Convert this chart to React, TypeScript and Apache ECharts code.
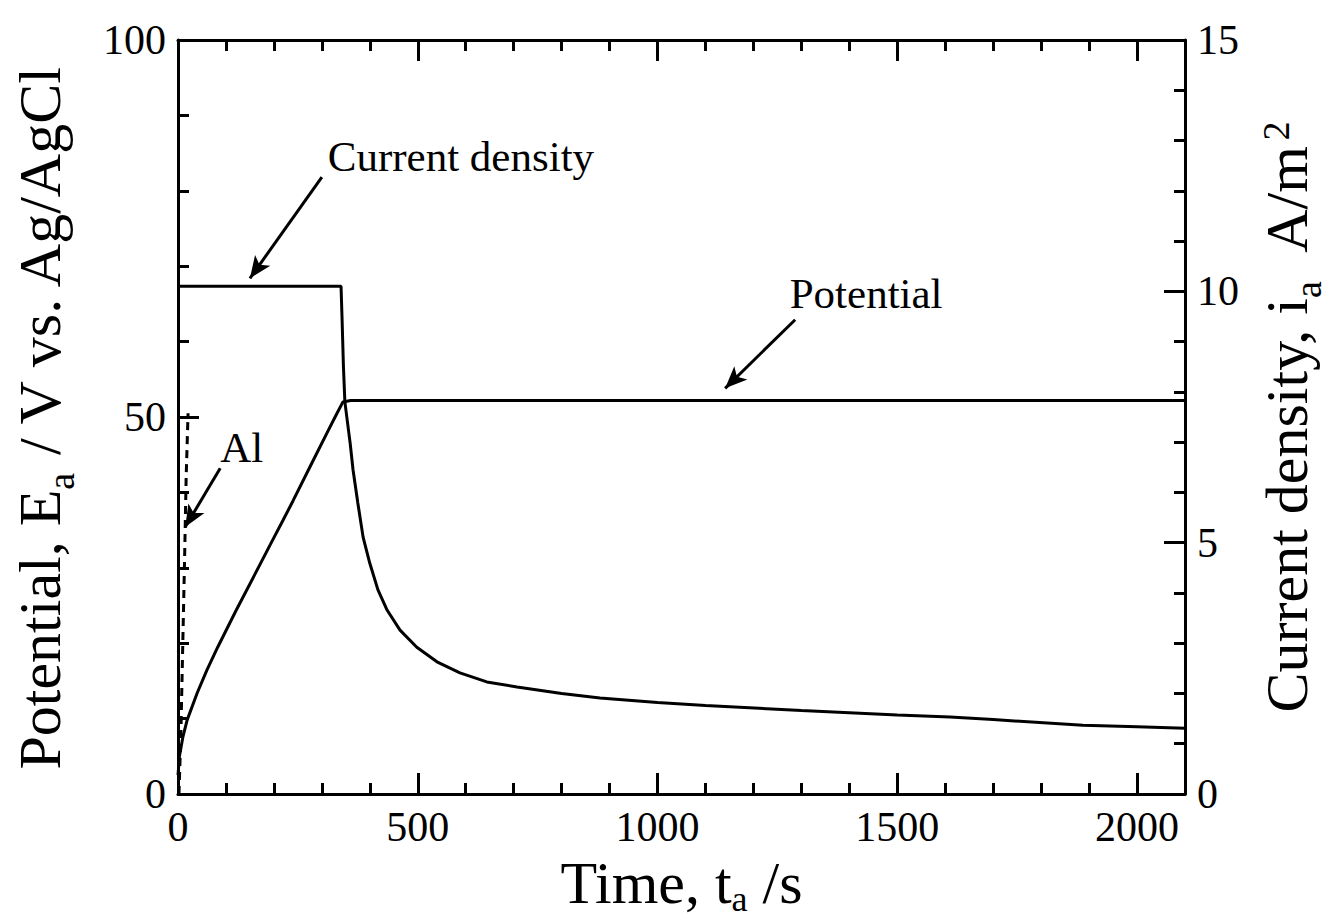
import React, { useEffect, useRef } from "react";
import * as echarts from "echarts";

// Potential (left axis, V) vs time (s)
const potT = [0, 3, 10, 19, 40, 60, 83, 120, 160, 200, 219, 240, 280, 310, 330, 344, 360, 2100];
const potV = [2.5, 5, 7.5, 9.8, 13.4, 16.4, 19.5, 24.2, 29.1, 34.0, 36.3, 38.9, 44.0, 47.8, 50.3, 52.0, 52.2, 52.2];

// Current density (right axis, A/m2) vs time (s)
const curT = [0, 340, 342, 345, 348, 359, 365, 375, 386, 400, 417, 436, 463, 498, 540, 588, 644, 707, 800, 880, 1000, 1100, 1300, 1500, 1610, 1700, 1887, 2000, 2100];
const curI = [10.1, 10.1, 9.5, 8.5, 7.8, 6.98, 6.45, 5.79, 5.11, 4.59, 4.06, 3.66, 3.26, 2.92, 2.63, 2.41, 2.23, 2.13, 2.0, 1.91, 1.82, 1.76, 1.66, 1.57, 1.53, 1.48, 1.37, 1.34, 1.31];

// Al reference (dashed, left axis)
const alT = [2, 6, 10, 14, 17, 21];
const alV = [0, 8, 20, 32, 42, 50.5];

// Annotation labels (data coords, left axis)
const noteText = ["Current density", "Potential", "Al"];
const noteT = [590, 1435, 133];
const noteV = [84.5, 66.4, 46];

// Arrows: start -> tip (data coords, left axis)
const arrowFromT = [300, 1287, 88];
const arrowFromV = [81.8, 62.9, 43.2];
const arrowToT = [150, 1141, 15];
const arrowToV = [68.4, 53.8, 35.4];

const FONT = "'Liberation Serif', 'Times New Roman', serif";

export default function App() {
  const ref = useRef<HTMLDivElement>(null);
  useEffect(() => {
    if (!ref.current) return;
    const chart = echarts.init(ref.current, undefined, { renderer: "svg" });
    const black = "#000";
    const tickLabel = { fontSize: 42, color: black, fontFamily: FONT };
    const lineOn = { show: true, onZero: false, lineStyle: { color: black, width: 3 } };
    const lineOff = { show: false, onZero: false };
    const majorTick = { show: true, inside: true, length: 21, lineStyle: { color: black, width: 3 } };
    const minorTickX = { show: true, inside: true, length: 11, lineStyle: { color: black, width: 3 } };
    const nameMain = { fontSize: 60, lineHeight: 60, fontFamily: FONT, color: black, verticalAlign: "top" as const };
    const nameSub = { fontSize: 38, lineHeight: 30, fontFamily: FONT, color: black, verticalAlign: "top" as const, padding: [32, 0, 0, 0] };
    const nameSubX = { fontSize: 36, lineHeight: 28, fontFamily: FONT, color: black, verticalAlign: "top" as const, padding: [28, 0, 0, 0] };
    const nameSup = { fontSize: 38, lineHeight: 38, fontFamily: FONT, color: black, verticalAlign: "top" as const, padding: [0, 0, 0, 4] };
    const fmt = (v: number) => String(v);

    const option: any = {
      animation: false,
      backgroundColor: "#fff",
      grid: { left: 178, right: 153, top: 40, bottom: 127, containLabel: false, outerBoundsMode: "none" },
      xAxis: [
        {
          type: "value", min: 0, max: 2100, interval: 500, position: "bottom",
          splitLine: { show: false }, axisLine: lineOn, axisTick: majorTick,
          axisLabel: { ...tickLabel, margin: 12, showMaxLabel: false, formatter: fmt },
          name: "{n|Time, t}{s|a}{n| /s}",
          nameLocation: "middle", nameGap: 56,
          nameTextStyle: { rich: { n: nameMain, s: nameSubX } },
        },
        {
          type: "value", min: 0, max: 2100, interval: 100, position: "bottom",
          splitLine: { show: false }, axisLine: lineOff, axisTick: minorTickX,
          axisLabel: { show: false },
        },
        {
          type: "value", min: 0, max: 2100, interval: 500, position: "top",
          splitLine: { show: false }, axisLine: lineOn, axisTick: majorTick,
          axisLabel: { show: false },
        },
        {
          type: "value", min: 0, max: 2100, interval: 100, position: "top",
          splitLine: { show: false }, axisLine: lineOff, axisTick: minorTickX,
          axisLabel: { show: false },
        },
      ],
      yAxis: [
        {
          type: "value", min: 0, max: 100, interval: 50, position: "left",
          splitLine: { show: false }, axisLine: lineOn, axisTick: majorTick,
          minorTick: { show: true, splitNumber: 5, length: 11, lineStyle: { color: black, width: 3 } },
          minorSplitLine: { show: false },
          axisLabel: { ...tickLabel, margin: 12, formatter: fmt },
          name: "{n|Potential, E}{s|a}{n| / V vs. Ag/AgCl}",
          nameLocation: "middle", nameGap: 108, nameRotate: 90,
          nameTextStyle: { rich: { n: nameMain, s: nameSub } },
        },
        {
          type: "value", min: 0, max: 15, interval: 5, position: "right",
          splitLine: { show: false }, axisLine: lineOn, axisTick: majorTick,
          minorTick: { show: true, splitNumber: 5, length: 11, lineStyle: { color: black, width: 3 } },
          minorSplitLine: { show: false },
          axisLabel: { ...tickLabel, margin: 12, formatter: fmt },
          name: "{n|Current density, i}{s|a}{n|  A/m}{p|2}",
          nameLocation: "middle", nameGap: 72, nameRotate: 90,
          nameTextStyle: { rich: { n: nameMain, s: nameSub, p: nameSup } },
        },
      ],
      series: [
        {
          name: "Potential", type: "line", xAxisIndex: 0, yAxisIndex: 0,
          data: potT.map((t, i) => [t, potV[i]]),
          showSymbol: false, symbol: "none",
          lineStyle: { color: black, width: 3 },
        },
        {
          name: "Current density", type: "line", xAxisIndex: 0, yAxisIndex: 1,
          data: curT.map((t, i) => [t, curI[i]]),
          showSymbol: false, symbol: "none",
          lineStyle: { color: black, width: 3 },
        },
        {
          name: "Al", type: "line", xAxisIndex: 0, yAxisIndex: 0,
          data: alT.map((t, i) => [t, alV[i]]),
          showSymbol: false, symbol: "none",
          lineStyle: { color: black, width: 3, type: [8, 6] },
        },
        {
          name: "notes", type: "line", xAxisIndex: 0, yAxisIndex: 0, data: [],
          silent: true,
          markLine: {
            silent: true, animation: false,
            symbol: ["none", "arrow"], symbolSize: [14, 22],
            lineStyle: { color: black, width: 3, type: "solid" },
            label: { show: false },
            data: arrowFromT.map((t, i) => [
              { coord: [t, arrowFromV[i]] },
              { coord: [arrowToT[i], arrowToV[i]] },
            ]),
          },
          markPoint: {
            silent: true, animation: false,
            symbol: "circle", symbolSize: 1,
            itemStyle: { color: "rgba(0,0,0,0)" },
            label: { show: true, position: "inside", fontSize: 43, color: black, fontFamily: FONT },
            data: noteText.map((txt, i) => ({
              coord: [noteT[i], noteV[i]],
              label: { formatter: txt },
            })),
          },
        },
      ],
    };
    chart.setOption(option);
    return () => chart.dispose();
  }, []);
  return (
    <div
      ref={ref}
      style={{ position: "fixed", left: 0, top: 0, width: 1338, height: 921, background: "#fff" }}
    />
  );
}
